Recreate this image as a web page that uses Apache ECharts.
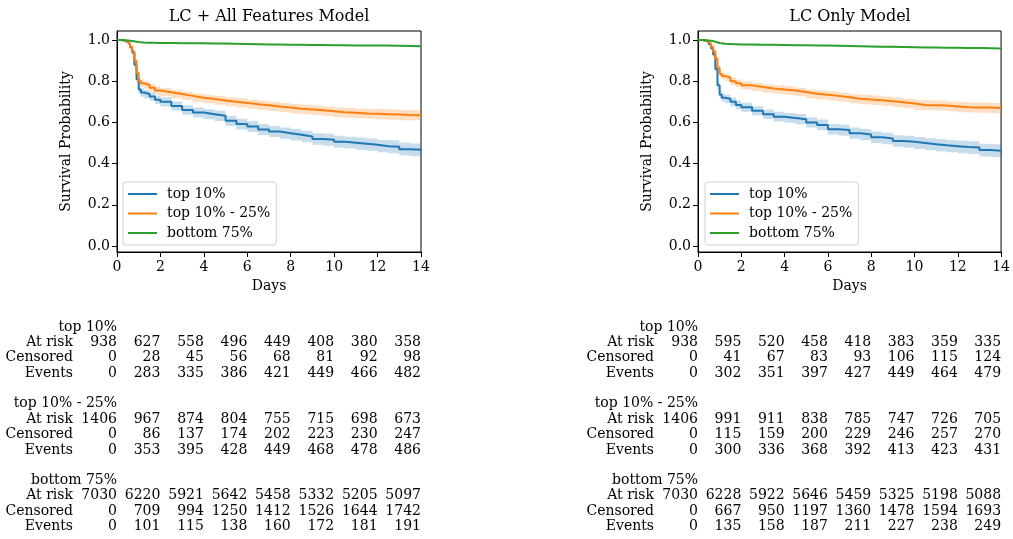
<!DOCTYPE html>
<html>
<head>
<meta charset="utf-8">
<script src="https://cdn.jsdelivr.net/npm/echarts@6/dist/echarts.min.js"></script>
<style>
html,body{margin:0;padding:0;background:#fff;}
#chart{width:1013px;height:539px;}
</style>
</head>
<body>
<div id="chart"></div>
<script>
// ---------- DATA ----------
const groupNames = ['top 10%', 'top 10% - 25%', 'bottom 75%'];
const panelTitles = ['LC + All Features Model', 'LC Only Model'];
const xTicks = [0, 2, 4, 6, 8, 10, 12, 14];
const yTicks = [0, 0.2, 0.4, 0.6, 0.8, 1.0];
const times = [0, 0.2, 0.4, 0.5, 0.6, 0.7, 0.8, 0.9, 1.0, 1.1, 1.25, 1.5, 1.75, 2,
  2.5, 3, 3.5, 4, 4.5, 5, 5.5, 6, 6.5, 7, 7.5, 8, 8.5, 9, 9.5, 10, 10.5, 11, 11.5, 12, 12.5, 13, 13.5, 14];

// LC + All Features Model survival
const allTop10 = [1.0, 0.997, 0.99, 0.982, 0.965, 0.94, 0.88, 0.81, 0.76, 0.745, 0.738, 0.726, 0.71, 0.70,
  0.68, 0.66, 0.648, 0.64, 0.632, 0.608, 0.592, 0.58, 0.566, 0.556, 0.548, 0.54, 0.532, 0.52, 0.516, 0.506, 0.502, 0.497, 0.492, 0.485, 0.482, 0.47, 0.467, 0.463];
const allTop10to25 = [1.0, 0.998, 0.99, 0.982, 0.968, 0.945, 0.90, 0.84, 0.80, 0.79, 0.782, 0.768, 0.755, 0.747,
  0.738, 0.729, 0.72, 0.714, 0.707, 0.70, 0.695, 0.688, 0.683, 0.678, 0.672, 0.667, 0.663, 0.659, 0.654, 0.649, 0.647, 0.644, 0.642, 0.64, 0.638, 0.636, 0.635, 0.633];
const allBottom75 = [1.0, 0.999, 0.998, 0.997, 0.996, 0.994, 0.992, 0.99, 0.989, 0.988, 0.987, 0.987, 0.986, 0.986,
  0.985, 0.985, 0.984, 0.983, 0.983, 0.982, 0.981, 0.980, 0.979, 0.978, 0.977, 0.977, 0.976, 0.976, 0.975, 0.975, 0.974, 0.974, 0.973, 0.973, 0.972, 0.971, 0.970, 0.969];

// LC Only Model survival
const lcTop10 = [1.0, 0.997, 0.99, 0.98, 0.96, 0.93, 0.86, 0.78, 0.735, 0.72, 0.715, 0.70, 0.685, 0.674,
  0.657, 0.64, 0.628, 0.622, 0.616, 0.60, 0.588, 0.567, 0.563, 0.548, 0.541, 0.528, 0.522, 0.51, 0.506, 0.50, 0.494, 0.489, 0.485, 0.481, 0.478, 0.466, 0.463, 0.46];
const lcTop10to25 = [1.0, 0.998, 0.99, 0.982, 0.968, 0.945, 0.91, 0.865, 0.835, 0.825, 0.818, 0.80, 0.79, 0.78,
  0.772, 0.765, 0.76, 0.755, 0.748, 0.739, 0.734, 0.729, 0.722, 0.715, 0.711, 0.708, 0.703, 0.698, 0.692, 0.685, 0.684, 0.682, 0.678, 0.674, 0.673, 0.672, 0.67, 0.669];
const lcBottom75 = [1.0, 0.999, 0.998, 0.997, 0.995, 0.992, 0.989, 0.986, 0.984, 0.982, 0.981, 0.98, 0.979, 0.978,
  0.977, 0.977, 0.976, 0.975, 0.975, 0.974, 0.973, 0.972, 0.971, 0.970, 0.969, 0.967, 0.967, 0.966, 0.965, 0.964, 0.964, 0.963, 0.963, 0.962, 0.961, 0.960, 0.959, 0.958];

// confidence band half-widths
const ciTop10 = [0, 0.003, 0.005, 0.007, 0.009, 0.011, 0.014, 0.017, 0.019, 0.02, 0.02, 0.021, 0.021, 0.022,
  0.022, 0.023, 0.024, 0.024, 0.025, 0.025, 0.026, 0.026, 0.027, 0.027, 0.027, 0.028, 0.028, 0.028, 0.029, 0.029, 0.029, 0.03, 0.03, 0.03, 0.031, 0.031, 0.031, 0.032];
const ciTop10to25 = [0, 0.002, 0.004, 0.006, 0.008, 0.01, 0.012, 0.015, 0.017, 0.018, 0.018, 0.019, 0.019, 0.02,
  0.02, 0.02, 0.021, 0.021, 0.021, 0.021, 0.022, 0.022, 0.022, 0.022, 0.023, 0.023, 0.023, 0.023, 0.023, 0.024, 0.024, 0.024, 0.024, 0.025, 0.025, 0.025, 0.025, 0.026];
const ciBottom75 = [0, 0.001, 0.001, 0.002, 0.002, 0.002, 0.002, 0.003, 0.003, 0.003, 0.003, 0.003, 0.003, 0.003,
  0.003, 0.003, 0.003, 0.003, 0.003, 0.003, 0.003, 0.003, 0.003, 0.003, 0.003, 0.003, 0.003, 0.003, 0.003, 0.003, 0.003, 0.003, 0.003, 0.003, 0.003, 0.003, 0.003, 0.003];

// At-risk tables: LC + All Features
const allRiskTop10 = [938, 627, 558, 496, 449, 408, 380, 358];
const allCensTop10 = [0, 28, 45, 56, 68, 81, 92, 98];
const allEvtTop10 = [0, 283, 335, 386, 421, 449, 466, 482];
const allRiskTop10to25 = [1406, 967, 874, 804, 755, 715, 698, 673];
const allCensTop10to25 = [0, 86, 137, 174, 202, 223, 230, 247];
const allEvtTop10to25 = [0, 353, 395, 428, 449, 468, 478, 486];
const allRiskBottom75 = [7030, 6220, 5921, 5642, 5458, 5332, 5205, 5097];
const allCensBottom75 = [0, 709, 994, 1250, 1412, 1526, 1644, 1742];
const allEvtBottom75 = [0, 101, 115, 138, 160, 172, 181, 191];
// At-risk tables: LC Only
const lcRiskTop10 = [938, 595, 520, 458, 418, 383, 359, 335];
const lcCensTop10 = [0, 41, 67, 83, 93, 106, 115, 124];
const lcEvtTop10 = [0, 302, 351, 397, 427, 449, 464, 479];
const lcRiskTop10to25 = [1406, 991, 911, 838, 785, 747, 726, 705];
const lcCensTop10to25 = [0, 115, 159, 200, 229, 246, 257, 270];
const lcEvtTop10to25 = [0, 300, 336, 368, 392, 413, 423, 431];
const lcRiskBottom75 = [7030, 6228, 5922, 5646, 5459, 5325, 5198, 5088];
const lcCensBottom75 = [0, 667, 950, 1197, 1360, 1478, 1594, 1693];
const lcEvtBottom75 = [0, 135, 158, 187, 211, 227, 238, 249];

// ---------- BUILD ----------
const FONT = 'DejaVu Serif';
const colors = ['#1f77b4', '#ff7f0e', '#2ca02c'];
const bandColors = ['rgba(31,119,180,0.25)', 'rgba(255,127,14,0.25)', 'rgba(44,160,44,0.25)'];
const panels = [
  {curves: [allTop10, allTop10to25, allBottom75],
   table: [[allRiskTop10, allCensTop10, allEvtTop10], [allRiskTop10to25, allCensTop10to25, allEvtTop10to25], [allRiskBottom75, allCensBottom75, allEvtBottom75]]},
  {curves: [lcTop10, lcTop10to25, lcBottom75],
   table: [[lcRiskTop10, lcCensTop10, lcEvtTop10], [lcRiskTop10to25, lcCensTop10to25, lcEvtTop10to25], [lcRiskBottom75, lcCensBottom75, lcEvtBottom75]]}
];
const cis = [ciTop10, ciTop10to25, ciBottom75];

const grids = [
  {left: 117, top: 31, width: 304, height: 221},
  {left: 698, top: 31, width: 304, height: 221}
];

const xAxes = grids.map((g, i) => ({
  type: 'value', gridIndex: i, min: 0, max: 14, interval: 2,
  name: 'Days', nameLocation: 'middle', nameGap: 27,
  nameTextStyle: {fontFamily: FONT, fontSize: 14, color: '#000'},
  axisLine: {show: true, onZero: false, lineStyle: {color: '#000', width: 1}},
  axisTick: {show: true, length: 5, lineStyle: {color: '#000'}},
  axisLabel: {fontFamily: FONT, fontSize: 14, color: '#000', margin: 8},
  splitLine: {show: false}
}));
const yAxes = grids.map((g, i) => ({
  type: 'value', gridIndex: i, min: -0.029, max: 1.044,
  name: 'Survival Probability', nameLocation: 'middle', nameGap: 44,
  nameTextStyle: {fontFamily: FONT, fontSize: 14, color: '#000'},
  axisLine: {show: true, onZero: false, lineStyle: {color: '#000', width: 1}},
  axisTick: {show: true, length: 5, lineStyle: {color: '#000'}, customValues: yTicks},
  axisLabel: {fontFamily: FONT, fontSize: 14, color: '#000', margin: 7, customValues: yTicks,
    formatter: v => v.toFixed(1)},
  splitLine: {show: false}
}));

// step-post band polygon drawn through the axis scales
function bandRenderer(color) {
  return function (params, api) {
    if (params.dataIndex !== 0) return null;
    const n = params.dataInsideLength !== undefined ? params.dataInsideLength : 0;
    const rows = [];
    for (let k = 0; ; k++) {
      const t = api.value(0, k);
      if (t === undefined || t === null || isNaN(t)) break;
      rows.push([t, api.value(1, k), api.value(2, k)]);
      if (k > 500) break;
    }
    const upper = [], lower = [];
    rows.forEach((r, k) => {
      const tNext = k + 1 < rows.length ? rows[k + 1][0] : r[0];
      upper.push(api.coord([r[0], r[2]]));
      upper.push(api.coord([tNext, r[2]]));
      lower.push(api.coord([r[0], r[1]]));
      lower.push(api.coord([tNext, r[1]]));
    });
    const pts = upper.concat(lower.reverse());
    return {type: 'polygon', shape: {points: pts}, style: {fill: color}, silent: true};
  };
}

const series = [];
panels.forEach((p, pi) => {
  p.curves.forEach((curve, ci) => {
    const h = cis[ci];
    series.push({
      type: 'custom', name: 'band' + pi + ci, xAxisIndex: pi, yAxisIndex: pi, z: 1, silent: true,
      clip: true,
      renderItem: bandRenderer(bandColors[ci]),
      encode: {x: 0, y: [1, 2]},
      data: times.map((t, k) => [t, curve[k] - h[k], curve[k] + h[k]])
    });
  });
  p.curves.forEach((curve, ci) => {
    series.push({
      type: 'line', name: groupNames[ci], xAxisIndex: pi, yAxisIndex: pi,
      step: 'end', symbol: 'none', z: 3, color: colors[ci],
      lineStyle: {color: colors[ci], width: 2},
      data: times.map((t, k) => [t, curve[k]])
    });
  });
});

const legends = [123, 705].map(x => ({
  left: x, top: 182, orient: 'vertical',
  data: groupNames.map(n => ({name: n, icon: 'rect'})),
  itemWidth: 29, itemHeight: 2, itemGap: 5.5,
  padding: [5, 6, 5, 5],
  borderColor: '#d0d0d0', borderWidth: 1, borderRadius: 3,
  backgroundColor: 'rgba(255,255,255,0.8)',
  selectedMode: false,
  textStyle: {fontFamily: FONT, fontSize: 14, color: '#000', padding: [0, 0, 0, 5]}
}));

const chart = echarts.init(document.getElementById('chart'), null, {renderer: 'canvas'});
chart.setOption({
  animation: false,
  backgroundColor: '#fff',
  grid: grids.map(g => Object.assign({show: true, borderColor: '#000', borderWidth: 1, backgroundColor: 'transparent'}, g)),
  xAxis: xAxes,
  yAxis: yAxes,
  legend: legends,
  series: series
});

// titles and at-risk tables positioned through the axes
const graphics = [];
const rowLabels = ['At risk', 'Censored', 'Events'];
panels.forEach((p, pi) => {
  const px = xTicks.map(d => chart.convertToPixel({xAxisIndex: pi, yAxisIndex: pi}, [d, 0])[0]);
  const g = grids[pi];
  graphics.push({type: 'text', x: g.left + g.width / 2, y: 17,
    style: {text: panelTitles[pi], font: '16px "' + FONT + '"', fill: '#000', textAlign: 'center', textVerticalAlign: 'middle'}});
  p.table.forEach((rows, gi) => {
    const y0 = 327 + gi * 76.7;
    graphics.push({type: 'text', x: px[0], y: y0,
      style: {text: groupNames[gi], font: '14px "' + FONT + '"', fill: '#000', textAlign: 'right', textVerticalAlign: 'middle'}});
    rows.forEach((vals, ri) => {
      const y = y0 + 15.4 * (ri + 1);
      graphics.push({type: 'text', x: px[0] - 44, y: y,
        style: {text: rowLabels[ri], font: '14px "' + FONT + '"', fill: '#000', textAlign: 'right', textVerticalAlign: 'middle'}});
      vals.forEach((v, k) => {
        graphics.push({type: 'text', x: px[k], y: y,
          style: {text: String(v), font: '14px "' + FONT + '"', fill: '#000', textAlign: 'right', textVerticalAlign: 'middle'}});
      });
    });
  });
});
chart.setOption({graphic: graphics});
</script>
</body>
</html>
